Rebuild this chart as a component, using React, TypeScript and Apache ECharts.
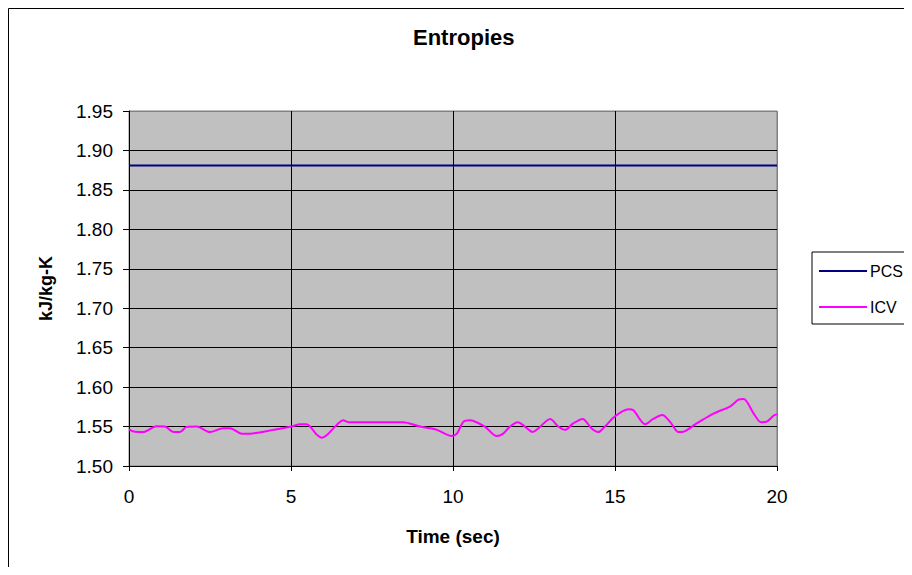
import React, { useEffect, useRef } from "react";
import * as echarts from "echarts";

const titleText = "Entropies";
const xAxisName = "Time (sec)";
const yAxisName = "kJ/kg-K";
const seriesNames = ["PCS", "ICV"];

const pcsTime = [0, 5, 10, 15, 20];
const pcsValues = [1.881, 1.881, 1.881, 1.881, 1.881];

const icvTime = [
  0, 0.19, 0.44, 0.85, 1.11, 1.37, 1.57, 1.78, 2.09, 2.5, 2.91, 3.12, 3.48, 3.73, 4.45,
  5.02, 5.28, 5.48, 5.79, 5.95, 6.1, 6.41, 6.61, 6.77, 8.46, 8.98, 9.5, 9.96, 10.12,
  10.32, 10.52, 10.99, 11.35, 11.55, 11.76, 12.0, 12.22, 12.46, 12.63, 13.0, 13.25,
  13.46, 13.71, 14.0, 14.28, 14.48, 14.69, 15.0, 15.41, 15.57, 15.93, 16.19, 16.46,
  16.7, 16.96, 17.06, 17.52, 18.04, 18.56, 18.81, 18.97, 19.28, 19.51, 19.67, 19.9, 20.0,
];
const icvValues = [
  1.5465, 1.5433, 1.543, 1.5504, 1.55, 1.543, 1.543, 1.5496, 1.55, 1.543, 1.548, 1.548,
  1.541, 1.541, 1.5458, 1.55, 1.553, 1.553, 1.54, 1.5357, 1.539, 1.552, 1.558, 1.5555,
  1.5555, 1.55, 1.5458, 1.538, 1.541, 1.556, 1.558, 1.5496, 1.538, 1.541, 1.55, 1.5555,
  1.55, 1.543, 1.5475, 1.5597, 1.55, 1.5458, 1.554, 1.5597, 1.5475, 1.543, 1.55, 1.563,
  1.572, 1.5706, 1.553, 1.56, 1.5647, 1.556, 1.543, 1.543, 1.554, 1.5665, 1.5757, 1.584,
  1.585, 1.5665, 1.5555, 1.556, 1.564, 1.5655,
];

const xTicks = [0, 5, 10, 15, 20];
const yMin = 1.5;
const yMax = 1.95;
const yStep = 0.05;

const FONT = "'Liberation Sans', Arial, sans-serif";

export default function App() {
  const ref = useRef<HTMLDivElement>(null);
  useEffect(() => {
    if (!ref.current) return;
    const chart = echarts.init(ref.current, null, { renderer: "svg" });
    const yLineCount = Math.round((yMax - yMin) / yStep) + 1;
    const yColors = Array.from({ length: yLineCount }, (_, i) =>
      i === yLineCount - 1 ? "#808080" : "#000000"
    );
    const xColors = xTicks.map((_, i) => (i === xTicks.length - 1 ? "#808080" : "#000000"));
    chart.setOption({
      animation: false,
      backgroundColor: "#ffffff",
      title: {
        text: titleText,
        left: 405,
        top: 18,
        padding: 0,
        textStyle: { fontFamily: FONT, fontSize: 22, fontWeight: "bold", color: "#000" },
      },
      legend: {
        orient: "vertical",
        left: 804,
        top: 244,
        padding: [10, 30, 8, 7],
        itemGap: 18,
        itemWidth: 48,
        itemHeight: 2,
        borderColor: "#000",
        borderWidth: 1,
        icon: "rect",
        data: seriesNames,
        textStyle: { fontFamily: FONT, fontSize: 16, color: "#000", lineHeight: 18, padding: [0, 0, 0, -2] },
      },
      graphic: [
        {
          type: "rect",
          shape: { x: 0.5, y: 0.5, width: 1000, height: 1000 },
          style: { fill: "none", stroke: "#000", lineWidth: 1 },
          silent: true,
        },
      ],
      grid: {
        left: 121,
        top: 103,
        width: 648,
        height: 355,
        show: true,
        backgroundColor: "#c0c0c0",
        borderColor: "#808080",
        borderWidth: 1,
      },
      xAxis: {
        type: "value",
        min: 0,
        max: 20,
        interval: 5,
        name: xAxisName,
        nameLocation: "middle",
        nameGap: 61,
        nameTextStyle: { fontFamily: FONT, fontSize: 19, fontWeight: "bold", color: "#000" },
        axisLine: { show: true, lineStyle: { color: "#000", width: 1 } },
        axisTick: { show: true, length: 5, lineStyle: { color: "#000" } },
        axisLabel: { margin: 21, fontFamily: FONT, fontSize: 19, color: "#000" },
        splitLine: { show: true, lineStyle: { color: xColors, width: 1 } },
      },
      yAxis: {
        type: "value",
        min: yMin,
        max: yMax,
        interval: yStep,
        name: yAxisName,
        nameLocation: "middle",
        nameGap: 74,
        nameTextStyle: { fontFamily: FONT, fontSize: 18, fontWeight: "bold", color: "#000" },
        axisLine: { show: true, lineStyle: { color: "#000", width: 1 } },
        axisTick: { show: true, length: 6, lineStyle: { color: "#000" } },
        axisLabel: {
          margin: 16,
          fontFamily: FONT,
          fontSize: 19,
          color: "#000",
          formatter: (v: number) => v.toFixed(2),
        },
        splitLine: { show: true, lineStyle: { color: yColors, width: 1 } },
      },
      series: [
        {
          name: seriesNames[0],
          type: "line",
          data: pcsTime.map((t, i) => [t, pcsValues[i]]),
          showSymbol: false,
          lineStyle: { color: "#000080", width: 2 },
          itemStyle: { color: "#000080" },
        },
        {
          name: seriesNames[1],
          type: "line",
          data: icvTime.map((t, i) => [t, icvValues[i]]),
          showSymbol: false,
          smooth: 0.3,
          lineStyle: { color: "#ff00ff", width: 2 },
          itemStyle: { color: "#ff00ff" },
        },
      ],
    });
    return () => chart.dispose();
  }, []);
  return (
    <div style={{ width: 896, height: 559, overflow: "hidden" }}>
      <div ref={ref} style={{ width: 920, height: 580 }} />
    </div>
  );
}
